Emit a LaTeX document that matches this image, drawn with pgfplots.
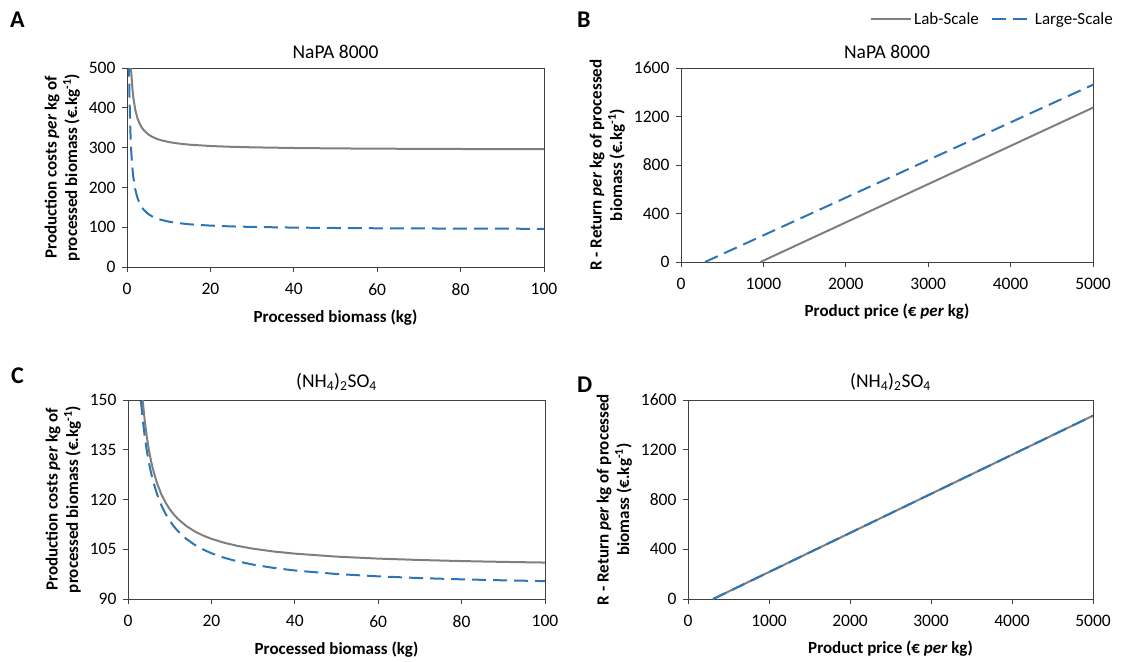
\documentclass[border=0pt]{standalone}
\usepackage{pgfplots}
\pgfplotsset{compat=1.18}
\usepackage{fontspec}
\setmainfont{Carlito}
\definecolor{labgray}{HTML}{7F7F7F}
\definecolor{bigblue}{HTML}{2E75B6}
\definecolor{axgray}{HTML}{404040}
\pgfplotsset{
  panel/.style={
    scale only axis, anchor=south west,
    axis line style={axgray, line width=1pt},
    tick style={axgray, line width=0.9pt},
    tick align=outside, xtick pos=bottom, ytick pos=left,
    major tick length=5pt,
    tick label style={font=\fontsize{17.5}{20}\selectfont},
    xticklabel style={yshift=-8pt},
    yticklabel style={xshift=-3pt},
    /pgf/number format/assume math mode=true,
    /pgf/number format/1000 sep={},
    scaled ticks=false,
    label style={font=\fontsize{17}{20.5}\selectfont\bfseries},
    xlabel style={yshift=-7pt},
    ylabel style={align=center, yshift=2pt},
    title style={font=\fontsize{19.5}{22}\selectfont},
    every axis plot/.append style={line width=2pt},
  },
  lab/.style={labgray, solid},
  big/.style={bigblue, dash pattern=on 14pt off 7pt},
}
\newcommand{\costlabel}{Production costs \textit{per} kg of\\processed biomass (€.kg\textsuperscript{-1})}
\newcommand{\retlabel}{R - Return \textit{per} kg of processed\\biomass (€.kg\textsuperscript{-1})}

\begin{document}
\begin{tikzpicture}
\path[use as bounding box] (0pt,0pt) rectangle (1121pt,-661pt);

% A
\begin{axis}[panel, at={(127pt,-267pt)}, width=417pt, height=199pt,
  xmin=0, xmax=100, ymin=0, ymax=500, xtick={0,20,...,100}, ytick={0,100,...,500},
  title={NaPA 8000}, xlabel={Processed biomass (kg)}, ylabel={\costlabel}]
\addplot[lab] coordinates {(0.4,794)(0.6,627)(0.8,544)(1,494)(1.25,454)(1.5,427.3)(2,394)(2.5,374)(3,360.7)(3.5,351.1)(4,344)(5,334)(6,327.3)(7,322.6)(8,319)(10,314)(12,310.7)(15,307.3)(20,304)(25,302)(30,300.7)(40,299)(50,298)(60,297.3)(70,296.9)(80,296.5)(90,296.2)(100,296)};
\addplot[big] coordinates {(0.2,1094)(0.3,760.7)(0.4,594)(0.5,494)(0.6,427.3)(0.8,344)(1,294)(1.25,254)(1.5,227.3)(2,194)(2.5,174)(3,160.7)(3.5,151.1)(4,144)(5,134)(6,127.3)(7,122.6)(8,119)(10,114)(12,110.7)(15,107.3)(20,104)(25,102)(30,100.7)(40,99)(50,98)(60,97.3)(70,96.9)(80,96.5)(90,96.2)(100,96)};
\end{axis}

% B
\begin{axis}[panel, at={(681pt,-262pt)}, width=412pt, height=194pt,
  xmin=0, xmax=5000, ymin=0, ymax=1600, xtick={0,1000,...,5000}, ytick={0,400,...,1600},
  title={NaPA 8000}, xlabel={Product price (€ \textit{per} kg)}, ylabel={\retlabel},
  legend columns=2,
  legend style={at={(1.0607,1.2526)}, anchor=east, draw=none, fill=none,
    font=\fontsize{17}{20}\selectfont, /tikz/every even column/.append style={column sep=10pt}},
  legend image code/.code={\draw[#1] (0pt,0pt) -- (40pt,0pt);}]
\addplot[lab] coordinates {(964,0)(5000,1273)};
\addlegendentry{Lab-Scale}
\addplot[big] coordinates {(291,0)(5000,1462)};
\addlegendentry{Large-Scale}
\end{axis}

% C
\begin{axis}[panel, at={(128pt,-599pt)}, width=417pt, height=199pt,
  xmin=0, xmax=100, ymin=90, ymax=150, xtick={0,20,...,100}, ytick={90,105,...,150},
  title={(NH\textsubscript{4})\textsubscript{2}SO\textsubscript{4}}, xlabel={Processed biomass (kg)}, ylabel={\costlabel}]
\addplot[lab] coordinates {(3.4,151.85)(3.7,147.58)(4,143.95)(4.5,138.98)(5,135.0)(5.5,131.75)(6,129.03)(7,124.77)(8,121.58)(9,119.09)(10,117.1)(11,115.47)(12,114.12)(14,111.99)(16,110.39)(18,109.14)(20,108.15)(23,106.98)(26,106.08)(30,105.17)(35,104.31)(40,103.68)(50,102.78)(60,102.18)(70,101.76)(80,101.44)(90,101.19)(100,100.99)};
\addplot[big] coordinates {(3.1,149.74)(3.5,144.48)(4,139.14)(4.5,134.8)(5,131.22)(5.5,128.2)(6,125.63)(7,121.47)(8,118.26)(9,115.7)(10,113.62)(11,111.89)(12,110.43)(14,108.1)(16,106.33)(18,104.93)(20,103.8)(23,102.46)(26,101.43)(30,100.36)(35,99.36)(40,98.6)(50,97.54)(60,96.83)(70,96.31)(80,95.93)(90,95.63)(100,95.39)};
\end{axis}

% D
\begin{axis}[panel, at={(688pt,-599pt)}, width=405pt, height=199pt,
  xmin=0, xmax=5000, ymin=0, ymax=1600, xtick={0,1000,...,5000}, ytick={0,400,...,1600},
  title={(NH\textsubscript{4})\textsubscript{2}SO\textsubscript{4}}, xlabel={Product price (€ \textit{per} kg)}, ylabel={\retlabel}]
\addplot[lab] coordinates {(310,0)(5000,1474)};
\addplot[big] coordinates {(310,0)(5000,1474)};
\end{axis}

\node[anchor=base west, inner sep=0pt, font=\fontsize{24}{28}\selectfont\bfseries] at (10pt,-28pt) {A};
\node[anchor=base west, inner sep=0pt, font=\fontsize{24}{28}\selectfont\bfseries] at (577pt,-28pt) {B};
\node[anchor=base west, inner sep=0pt, font=\fontsize{24}{28}\selectfont\bfseries] at (11pt,-383pt) {C};
\node[anchor=base west, inner sep=0pt, font=\fontsize{24}{28}\selectfont\bfseries] at (577pt,-392pt) {D};
\end{tikzpicture}
\end{document}
